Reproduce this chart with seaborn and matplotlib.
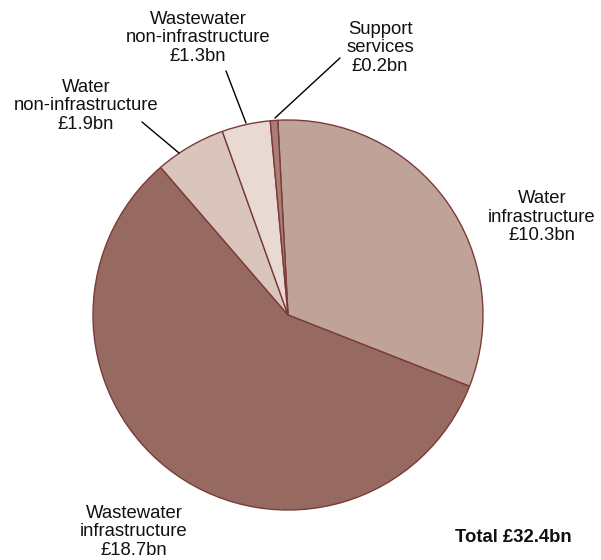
import matplotlib
matplotlib.use("Agg")
import matplotlib.pyplot as plt
import seaborn as sns

sns.set_theme(style="white")
plt.rcParams["font.family"] = ["Liberation Sans", "DejaVu Sans"]

# Spending by category, £bn (clockwise from the top)
categories = ["Water\ninfrastructure", "Wastewater\ninfrastructure",
              "Water\nnon-infrastructure", "Wastewater\nnon-infrastructure",
              "Support\nservices"]
values = [10.3, 18.7, 1.9, 1.3, 0.2]
colors = ["#c0a398", "#966a60", "#dac5bc", "#e8d9d3", "#a97f75"]
total = 32.4

W, H = 601, 560
CX, CY, R = 288, 315, 195

fig = plt.figure(figsize=(W / 100, H / 100), dpi=100)
ax = fig.add_axes([0, 0, 1, 1])


def px(x, y):
    return (x - CX) / R, (CY - y) / R


ax.pie(values, colors=colors, startangle=93, counterclock=False, radius=1,
       wedgeprops=dict(edgecolor="#7b3b3b", linewidth=1.0))
ax.set_aspect("auto")
ax.set_xlim(-CX / R, (W - CX) / R)
ax.set_ylim(-(H - CY) / R, CY / R)
ax.axis("off")

labels = [f"{c}\n£{v}bn" for c, v in zip(categories, values)]
fs = 13.3
text_kw = dict(ha="center", va="center", fontsize=fs, color="#111111",
               linespacing=1.08)

# Label positions outside the pie
label_pos = [(542, 217), (134, 532), (86, 106), (198, 38), (380, 48)]
for lab, pos in zip(labels, label_pos):
    ax.text(*px(*pos), lab, **text_kw)

# Leader lines for the small slices
leaders = [((142, 122), (179, 153)),
           ((226, 71), (246, 123)),
           ((340, 58), (275, 118))]
for start, end in leaders:
    ax.annotate("", xy=px(*end), xytext=px(*start),
                arrowprops=dict(arrowstyle="-", color="black", lw=1,
                                shrinkA=0, shrinkB=0))

ax.text(*px(455, 537), f"Total £{total}bn", ha="left", va="center",
        fontsize=fs, fontweight="bold", color="#111111")

fig.savefig("out.png", dpi=100)
